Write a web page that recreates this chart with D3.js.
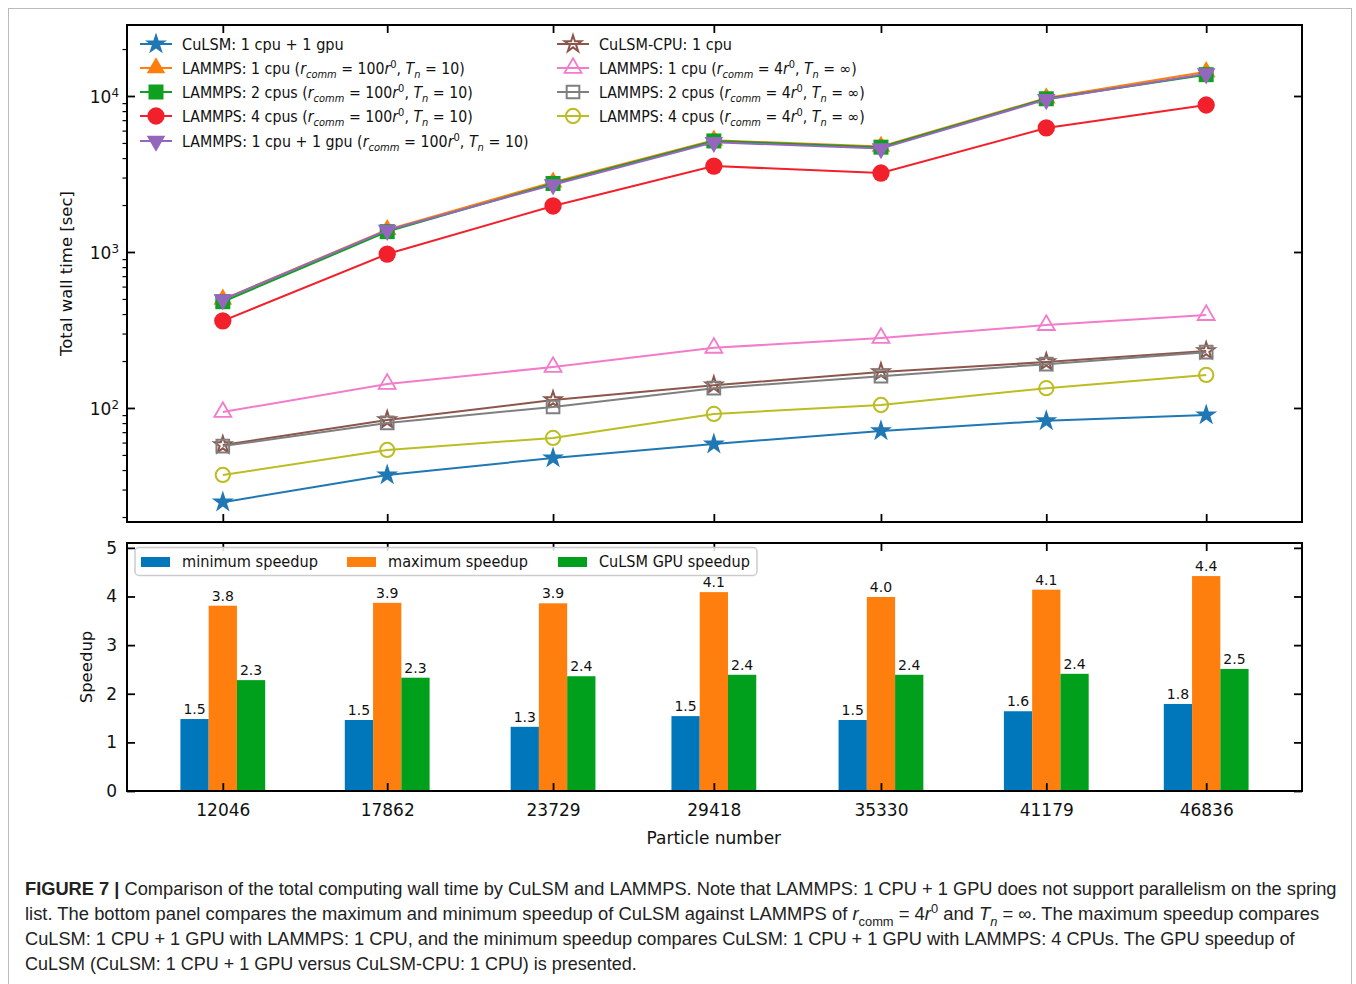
<!DOCTYPE html>
<html><head><meta charset="utf-8">
<script src="https://cdn.jsdelivr.net/npm/d3@7"></script>
<style>body{margin:0;background:#fff}svg{display:block}</style>
</head><body>
<svg id="c" width="1356" height="984"></svg>
<script>
// ---------- data ----------
const particles = [12046, 17862, 23729, 29418, 35330, 41179, 46836];
const culsmGpu      = [24.9, 37.2, 47.8, 58.7, 71.3, 82.7, 90.2];
const lammps1cpu100 = [497, 1390, 2800, 5200, 4750, 9700, 14300];
const lammps2cpu100 = [480, 1350, 2750, 5150, 4700, 9600, 13700];
const lammps4cpu100 = [362, 970, 1972, 3557, 3208, 6239, 8756];
const lammpsGpu100  = [495, 1380, 2700, 5050, 4600, 9500, 13900];
const culsmCpu      = [57.9, 83.7, 112.5, 140, 170, 197, 232];
const lammps1cpu4   = [94.2, 142.6, 183, 243, 281, 340, 394];
const lammps2cpu4   = [57, 80.2, 101.5, 134, 160, 191, 228];
const lammps4cpu4   = [37.2, 53.8, 64.3, 91.6, 104.5, 134, 163];

const minSpeedup = [1.48, 1.46, 1.32, 1.54, 1.46, 1.64, 1.79];
const maxSpeedup = [3.81, 3.87, 3.86, 4.09, 3.99, 4.14, 4.42];
const gpuSpeedup = [2.28, 2.33, 2.36, 2.39, 2.39, 2.41, 2.51];

const seriesLabels = [
  "CuLSM: 1 cpu + 1 gpu",
  "LAMMPS: 1 cpu (<i>r</i><isub>comm</isub> = 100<i>r</i><sup>0</sup>, <i>T</i><isub>n</isub> = 10)",
  "LAMMPS: 2 cpus (<i>r</i><isub>comm</isub> = 100<i>r</i><sup>0</sup>, <i>T</i><isub>n</isub> = 10)",
  "LAMMPS: 4 cpus (<i>r</i><isub>comm</isub> = 100<i>r</i><sup>0</sup>, <i>T</i><isub>n</isub> = 10)",
  "LAMMPS: 1 cpu + 1 gpu (<i>r</i><isub>comm</isub> = 100<i>r</i><sup>0</sup>, <i>T</i><isub>n</isub> = 10)",
  "CuLSM-CPU: 1 cpu",
  "LAMMPS: 1 cpu (<i>r</i><isub>comm</isub> = 4<i>r</i><sup>0</sup>, <i>T</i><isub>n</isub> = ∞)",
  "LAMMPS: 2 cpus (<i>r</i><isub>comm</isub> = 4<i>r</i><sup>0</sup>, <i>T</i><isub>n</isub> = ∞)",
  "LAMMPS: 4 cpus (<i>r</i><isub>comm</isub> = 4<i>r</i><sup>0</sup>, <i>T</i><isub>n</isub> = ∞)"
];
const barLabels = ["minimum speedup", "maximum speedup", "CuLSM GPU speedup"];
const yTicksTop = [100, 1000, 10000];
const yTicksBottom = [0, 1, 2, 3, 4, 5];
const captionLines = [
  "<b>FIGURE 7 |</b> Comparison of the total computing wall time by CuLSM and LAMMPS. Note that LAMMPS: 1 CPU + 1 GPU does not support parallelism on the spring",
  "list. The bottom panel compares the maximum and minimum speedup of CuLSM against LAMMPS of <i>r</i><sub>comm</sub> = 4<i>r</i><sup>0</sup> and <i>T</i><isub>n</isub> = ∞. The maximum speedup compares",
  "CuLSM: 1 CPU + 1 GPU with LAMMPS: 1 CPU, and the minimum speedup compares CuLSM: 1 CPU + 1 GPU with LAMMPS: 4 CPUs. The GPU speedup of",
  "CuLSM (CuLSM: 1 CPU + 1 GPU versus CuLSM-CPU: 1 CPU) is presented."
];

// ---------- styles ----------
const seriesData = [culsmGpu, lammps1cpu100, lammps2cpu100, lammps4cpu100, lammpsGpu100, culsmCpu, lammps1cpu4, lammps2cpu4, lammps4cpu4];
const styles = [
  {c:"#1f77b4", sym:d3.symbolStar, size:150, fill:true},
  {c:"#ff7f0e", sym:d3.symbolTriangle, size:150, fill:true},
  {c:"#0fa020", sym:d3.symbolSquare, size:225, fill:true},
  {c:"#f2202a", sym:d3.symbolCircle, size:235, fill:true},
  {c:"#9467bd", sym:d3.symbolTriangle, size:150, fill:true, rot:180},
  {c:"#8c564b", sym:d3.symbolStar, size:85, fill:false, sw:2},
  {c:"#f27ccb", sym:d3.symbolTriangle, size:125, fill:false, sw:1.8},
  {c:"#7f7f7f", sym:d3.symbolSquare, size:160, fill:false, sw:2},
  {c:"#bcbd22", sym:d3.symbolCircle, size:160, fill:false, sw:2}
];
const barColors = ["#0077bb", "#ff7f0e", "#00a01c"];

const svg = d3.select("#c");
svg.append("rect").attr("x",0).attr("y",0).attr("width",1356).attr("height",984).attr("fill","#fff");
svg.append("rect").attr("x",8.5).attr("y",8.5).attr("width",1343).attr("height",990)
  .attr("fill","none").attr("stroke","#bbb").attr("stroke-width",1);

const FONT = "DejaVu Sans, sans-serif";
const L = 127, R = 1302, T1 = 25, B1 = 522, T2 = 543, B2 = 791;

function rich(textSel, str, fs) {
  const parts = str.split(/(<b>.*?<\/b>|<i>.*?<\/i>|<isub>.*?<\/isub>|<sub>.*?<\/sub>|<sup>.*?<\/sup>)/).filter(s => s.length);
  let off = 0;
  parts.forEach(p => {
    const m = p.match(/^<(\w+)>(.*)<\/\1>$/);
    const t = textSel.append("tspan");
    let target = 0, txt = p, tag = null;
    if (m) { tag = m[1]; txt = m[2]; }
    if (tag === "sub" || tag === "isub") target = fs * 0.3;
    if (tag === "sup") target = -fs * 0.38;
    t.attr("dy", target - off); off = target;
    if (tag === "sub" || tag === "isub" || tag === "sup") t.attr("font-size", fs * 0.7);
    if (tag === "i" || tag === "isub") t.attr("font-style", "italic");
    if (tag === "b") t.attr("font-weight", "bold");
    t.text(txt);
  });
}

// ---------- scales ----------
const barW = 1000;
const xmin = d3.min(particles) - 1.5 * barW, xmax = d3.max(particles) + 1.5 * barW;
const pad = 0.05 * (xmax - xmin);
const x = d3.scaleLinear().domain([xmin - pad, xmax + pad]).range([L, R]);
const yTop = d3.scaleLog().domain([18.58, 28520]).range([B1, T1]);
const yBot = d3.scaleLinear().domain([0, 5.1]).range([B2, T2]);

// ---------- top panel ----------
const gTop = svg.append("g");
const tickLen = 8;
gTop.append("g").attr("transform",`translate(0,${B1})`)
  .call(d3.axisBottom(x).tickValues(particles).tickSizeInner(-tickLen).tickSizeOuter(0).tickFormat(""))
  .call(g => { g.select(".domain").remove(); g.selectAll("line").attr("stroke","#000").attr("stroke-width",1.8); });
gTop.append("g").attr("transform",`translate(0,${T1})`)
  .call(d3.axisTop(x).tickValues(particles).tickSizeInner(-tickLen).tickSizeOuter(0).tickFormat(""))
  .call(g => { g.select(".domain").remove(); g.selectAll("line").attr("stroke","#000").attr("stroke-width",1.8); });
const minor = [];
[10, 100, 1000, 10000].forEach(d => { for (let k = 2; k <= 9; k++) { const v = d * k; if (v > yTop.domain()[0] && v < yTop.domain()[1]) minor.push(v); } });
gTop.append("g").attr("transform",`translate(${L},0)`)
  .call(d3.axisLeft(yTop).tickValues(minor).tickSize(4.5).tickFormat(""))
  .call(g => { g.select(".domain").remove(); g.selectAll("line").attr("stroke","#000").attr("stroke-width",1.2); });
gTop.append("g").attr("transform",`translate(${L},0)`)
  .call(d3.axisLeft(yTop).tickValues(yTicksTop).tickSize(-tickLen).tickFormat(""))
  .call(g => { g.select(".domain").remove(); g.selectAll("line").attr("stroke","#000").attr("stroke-width",1.8); });
gTop.append("g").attr("transform",`translate(${R},0)`)
  .call(d3.axisRight(yTop).tickValues(yTicksTop).tickSize(-tickLen).tickFormat(""))
  .call(g => { g.select(".domain").remove(); g.selectAll("line").attr("stroke","#000").attr("stroke-width",1.8); });
yTicksTop.forEach(v => {
  const t = gTop.append("text").attr("x", 119).attr("y", yTop(v) + 7)
    .attr("text-anchor","end").attr("font-family",FONT).attr("font-size",17).attr("fill","#111");
  rich(t, `10<sup>${Math.round(Math.log10(v))}</sup>`, 17);
});
gTop.append("text").attr("transform",`translate(72,${(T1+B1)/2}) rotate(-90)`)
  .attr("text-anchor","middle").attr("font-family",FONT).attr("font-size",16.5).attr("fill","#111").text("Total wall time [sec]");

const lineGen = d3.line().x((d,i) => x(particles[i])).y(d => yTop(d));
function marker(sel, st) {
  sel.attr("d", d3.symbol().type(st.sym).size(st.size))
    .attr("fill", st.fill ? st.c : "none")
    .attr("stroke", st.fill ? "none" : st.c)
    .attr("stroke-width", st.sw || 0);
}
seriesData.forEach((data, si) => {
  const st = styles[si];
  const g = gTop.append("g");
  g.append("path").datum(data).attr("d", lineGen).attr("fill","none").attr("stroke", st.c).attr("stroke-width", 2);
  g.selectAll("path.m").data(data).join("path").attr("class","m")
    .attr("transform",(d,i) => `translate(${x(particles[i])},${yTop(d)}) rotate(${st.rot||0})`)
    .call(marker, st);
});
gTop.append("rect").attr("x",L).attr("y",T1).attr("width",R-L).attr("height",B1-T1)
  .attr("fill","none").attr("stroke","#000").attr("stroke-width",2);

const legPos = [
  [140,44],[140,68],[140,92],[140,116],[140,141],
  [557,44],[557,68],[557,92],[557,116]
];
const legEnds = [344, 465, 473, 473, 529, 732, 857, 865, 865];
seriesLabels.forEach((lab, si) => {
  const st = styles[si];
  const [lx, ly] = legPos[si];
  const g = gTop.append("g");
  g.append("line").attr("x1",lx).attr("x2",lx+32).attr("y1",ly).attr("y2",ly).attr("stroke",st.c).attr("stroke-width",2);
  g.append("path").attr("transform",`translate(${lx+16},${ly}) rotate(${st.rot||0})`).call(marker, st);
  const t = g.append("text").attr("x", 0).attr("y", 0).attr("font-family",FONT).attr("font-size",15).attr("fill","#111");
  rich(t, lab, 15);
  const w = t.node().getBBox().width;
  const sx = (legEnds[si] - (lx + 42)) / w;
  t.attr("transform", `translate(${lx+42},${ly+5.5}) scale(${sx},1)`);
});

// ---------- bottom panel ----------
const gBot = svg.append("g");
const barSeries = [minSpeedup, maxSpeedup, gpuSpeedup];
barSeries.forEach((vals, bi) => {
  const off = (bi - 1) * barW;
  gBot.selectAll(null).data(vals).join("rect")
    .attr("x",(d,i) => x(particles[i] + off - barW/2))
    .attr("width",(d,i) => x(particles[i] + off + barW/2) - x(particles[i] + off - barW/2))
    .attr("y", d => yBot(d)).attr("height", d => yBot(0) - yBot(d))
    .attr("fill", barColors[bi]);
  gBot.selectAll(null).data(vals).join("text")
    .attr("x",(d,i) => x(particles[i] + off)).attr("y", d => yBot(d) - 5)
    .attr("text-anchor","middle").attr("font-family",FONT).attr("font-size",14).attr("fill","#111")
    .text(d => d3.format(".1f")(d));
});
gBot.append("g").attr("transform",`translate(0,${B2})`)
  .call(d3.axisBottom(x).tickValues(particles).tickSizeInner(-tickLen).tickSizeOuter(0).tickPadding(13).tickFormat(d3.format("d")))
  .call(g => { g.select(".domain").remove(); g.selectAll("line").attr("stroke","#000").attr("stroke-width",1.8);
    g.selectAll("text").attr("font-family",FONT).attr("font-size",17).attr("fill","#111"); });
gBot.append("g").attr("transform",`translate(0,${T2})`)
  .call(d3.axisTop(x).tickValues(particles).tickSizeInner(-tickLen).tickSizeOuter(0).tickFormat(""))
  .call(g => { g.select(".domain").remove(); g.selectAll("line").attr("stroke","#000").attr("stroke-width",1.8); });
gBot.append("g").attr("transform",`translate(${L},0)`)
  .call(d3.axisLeft(yBot).tickValues(yTicksBottom).tickSizeInner(-tickLen).tickSizeOuter(0).tickPadding(10).tickFormat(d3.format("d")))
  .call(g => { g.select(".domain").remove(); g.selectAll("line").attr("stroke","#000").attr("stroke-width",1.8);
    g.selectAll("text").attr("font-family",FONT).attr("font-size",17).attr("fill","#111"); });
gBot.append("g").attr("transform",`translate(${R},0)`)
  .call(d3.axisRight(yBot).tickValues(yTicksBottom).tickSizeInner(-tickLen).tickSizeOuter(0).tickFormat(""))
  .call(g => { g.select(".domain").remove(); g.selectAll("line").attr("stroke","#000").attr("stroke-width",1.8); });
gBot.append("rect").attr("x",L).attr("y",T2).attr("width",R-L).attr("height",B2-T2)
  .attr("fill","none").attr("stroke","#000").attr("stroke-width",2);
gBot.append("text").attr("transform",`translate(92,${(T2+B2)/2}) rotate(-90)`)
  .attr("text-anchor","middle").attr("font-family",FONT).attr("font-size",16.5).attr("fill","#111").text("Speedup");
gBot.append("text").attr("x", x((particles[3]))).attr("y", 844)
  .attr("text-anchor","middle").attr("font-family",FONT).attr("font-size",17).attr("fill","#111").text("Particle number");

const lg = gBot.append("g");
lg.append("rect").attr("x",135).attr("y",547.5).attr("width",622).attr("height",28).attr("rx",4)
  .attr("fill","#fff").attr("fill-opacity",0.85).attr("stroke","#ccc").attr("stroke-width",1.5);
const blx = [141, 347, 558];
const blEnds = [318, 528, 750];
barLabels.forEach((lab, bi) => {
  lg.append("rect").attr("x",blx[bi]).attr("y",557).attr("width",29).attr("height",10).attr("fill",barColors[bi]);
  const t = lg.append("text").attr("x",0).attr("y",0).attr("font-family",FONT).attr("font-size",15).attr("fill","#111").text(lab);
  const w = t.node().getBBox().width;
  t.attr("transform",`translate(${blx[bi]+41},567) scale(${(blEnds[bi]-blx[bi]-41)/w},1)`);
});

// ---------- caption ----------
const capTargets = [1337, 1320, 1296, 637];
captionLines.forEach((line, li) => {
  const t = svg.append("text").attr("x",0).attr("y",0)
    .attr("font-family","'Liberation Sans Narrow', 'Liberation Sans', Arial, sans-serif").attr("font-size",18.5).attr("fill","#222");
  rich(t, line, 18.5);
  const w = t.node().getBBox().width;
  const sx = (capTargets[li] - 25) / w;
  t.attr("transform",`translate(25,${895 + li*25}) scale(${sx},1)`);
});
</script>
</body></html>
